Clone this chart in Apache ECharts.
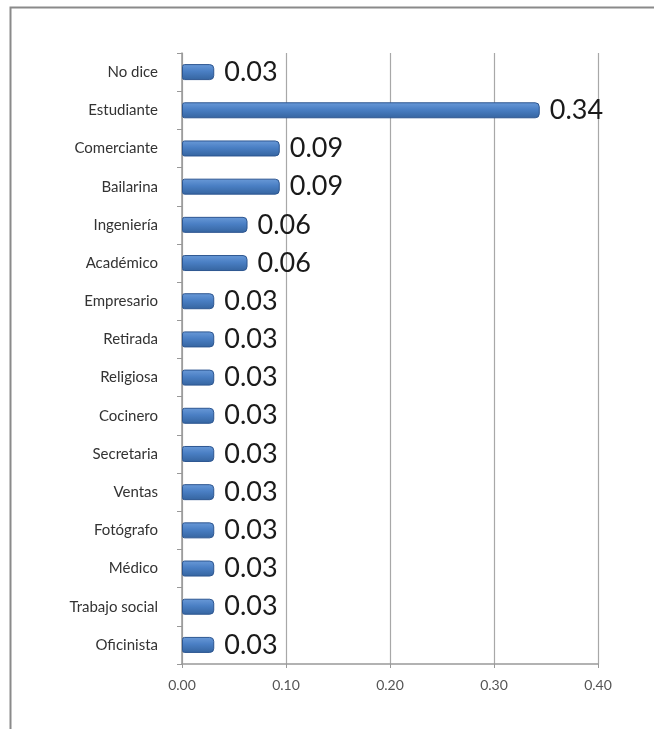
<!DOCTYPE html>
<html>
<head>
<meta charset="utf-8">
<script src="https://cdn.jsdelivr.net/npm/echarts@6/dist/echarts.min.js"></script>
<style>html,body{margin:0;padding:0;background:#fff;}#c{width:654px;height:729px;}</style>
</head>
<body>
<div id="c"></div>
<script>
const categories = ['No dice','Estudiante','Comerciante','Bailarina','Ingeniería','Académico','Empresario','Retirada','Religiosa','Cocinero','Secretaria','Ventas','Fotógrafo','Médico','Trabajo social','Oficinista'];
const values = [0.031,0.344,0.094,0.094,0.063,0.063,0.031,0.031,0.031,0.031,0.031,0.031,0.031,0.031,0.031,0.031];
const xTicks = [0, 0.1, 0.2, 0.3, 0.4];

const chart = echarts.init(document.getElementById('c'));
chart.setOption({
  animation: false,
  backgroundColor: '#fff',
  graphic: [{
    type: 'rect', shape: {x: 10.5, y: 7.5, width: 700, height: 800},
    style: {fill: 'none', stroke: '#8a8a8a', lineWidth: 2}
  }],
  grid: {left: 182, right: 56, top: 53, bottom: 65, containLabel: false},
  xAxis: {
    type: 'value', min: xTicks[0], max: xTicks[xTicks.length-1], interval: 0.1,
    axisLine: {show: true, lineStyle: {color: '#999', width: 1.5}},
    axisTick: {show: true, length: 4, lineStyle: {color: '#999'}},
    axisLabel: {formatter: v => v.toFixed(2), color: '#555', fontSize: 14, fontFamily: 'Lato', margin: 14},
    splitLine: {show: true, lineStyle: {color: '#a8a8a8', width: 1.2}}
  },
  yAxis: {
    type: 'category', data: categories, inverse: true,
    axisLine: {show: true, lineStyle: {color: '#999', width: 1.5}},
    axisTick: {show: true, length: 5, lineStyle: {color: '#999'}},
    axisLabel: {color: '#333', fontSize: 15, fontFamily: 'Lato', margin: 24}
  },
  series: [{
    type: 'bar', data: values, barWidth: 16,
    itemStyle: {
      color: new echarts.graphic.LinearGradient(0,0,0,1,[
        {offset: 0, color: '#6a9ad8'}, {offset: 0.45, color: '#4a7fc4'}, {offset: 1, color: '#35649f'}
      ]),
      borderColor: '#2d5690', borderWidth: 1, borderRadius: [2,4,4,2]
    },
    label: {
      show: true, position: 'right', distance: 10,
      formatter: p => p.value.toFixed(2),
      color: '#1a1a1a', fontSize: 27, fontFamily: 'Lato'
    }
  }]
});
</script>
</body>
</html>
